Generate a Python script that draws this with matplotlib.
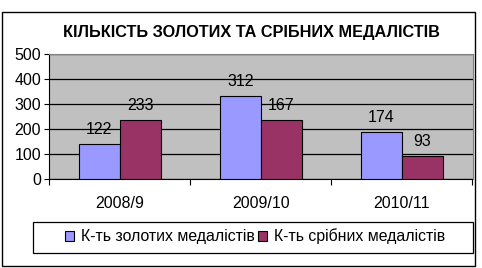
import matplotlib
matplotlib.use("Agg")
import matplotlib.pyplot as plt
from matplotlib.patches import Rectangle
import numpy as np

plt.rcParams["font.family"] = ["Liberation Sans", "DejaVu Sans"]

categories = ["2008/9", "2009/10", "2010/11"]
series_names = ["К-ть золотих медалістів", "К-ть срібних медалістів"]
# bar heights as drawn in the picture
gold_heights = [138, 330, 186]
silver_heights = [234, 234, 91]
# value labels printed above the bars
gold_labels = [122, 312, 174]
silver_labels = [233, 167, 93]
colors = ["#9999FF", "#993366"]

W, H = 482, 268
fig = plt.figure(figsize=(W / 100, H / 100), dpi=100)

# outer chart border
fig.patches.append(Rectangle((1.7 / W, 2 / H), 473.3 / W, 253.7 / H,
                             transform=fig.transFigure, fill=False,
                             edgecolor="black", linewidth=1.0))

fig.text(251 / W, 1 - 32 / H, "КІЛЬКІСТЬ ЗОЛОТИХ ТА СРІБНИХ МЕДАЛІСТІВ",
         ha="center", va="center", fontsize=11.7, fontweight="bold")

ax = fig.add_axes([49.3 / W, 1 - 179 / H, 423.2 / W, 125.3 / H])
ax.set_facecolor("#C0C0C0")

x = np.arange(len(categories))
w = 0.29
b1 = ax.bar(x - w / 2, gold_heights, w, color=colors[0], edgecolor="black",
            linewidth=0.8, label=series_names[0], zorder=3)
b2 = ax.bar(x + w / 2, silver_heights, w, color=colors[1], edgecolor="black",
            linewidth=0.8, label=series_names[1], zorder=3)

for bars, labels in ((b1, gold_labels), (b2, silver_labels)):
    for rect, lab in zip(bars, labels):
        ax.annotate(str(lab), (rect.get_x() + rect.get_width() / 2, rect.get_height()),
                    xytext=(0, 10.5), textcoords="offset points",
                    ha="center", va="center", fontsize=11.5)

ax.set_ylim(0, 500)
ax.set_xlim(-0.5, len(categories) - 0.5)
ax.set_yticks(np.arange(0, 501, 100))
ax.yaxis.grid(True, color="black", linewidth=0.9, zorder=1)
ax.set_axisbelow(True)
ax.tick_params(axis="y", direction="out", length=3.5, width=0.8, pad=2.5,
               labelsize=11.5)

ax.set_xticks(np.arange(-0.5, len(categories), 1.0))
ax.set_xticklabels([])
ax.set_xticks(x, minor=True)
ax.set_xticklabels(categories, minor=True)
ax.tick_params(axis="x", which="major", direction="out", length=4, width=0.8)
ax.tick_params(axis="x", which="minor", length=0, pad=12, labelsize=11.5)

for side in ("top", "right"):
    ax.spines[side].set_color("#808080")
for side in ("left", "bottom"):
    ax.spines[side].set_color("black")

# legend box drawn separately, it is wider than the entries
fig.patches.append(Rectangle((33.3 / W, 1 - 253.3 / H), 440 / W, 31.6 / H,
                             transform=fig.transFigure, fill=False,
                             edgecolor="black", linewidth=0.9))
leg = fig.legend(handles=[b1, b2], labels=series_names, ncol=2,
                 loc="center", bbox_to_anchor=(255 / W, 1 - 236.5 / H),
                 frameon=False, fontsize=11.4, handlelength=0.55,
                 handleheight=0.55, handletextpad=0.45, columnspacing=0.2,
                 borderpad=0.3)

fig.savefig("out.png", dpi=100)
